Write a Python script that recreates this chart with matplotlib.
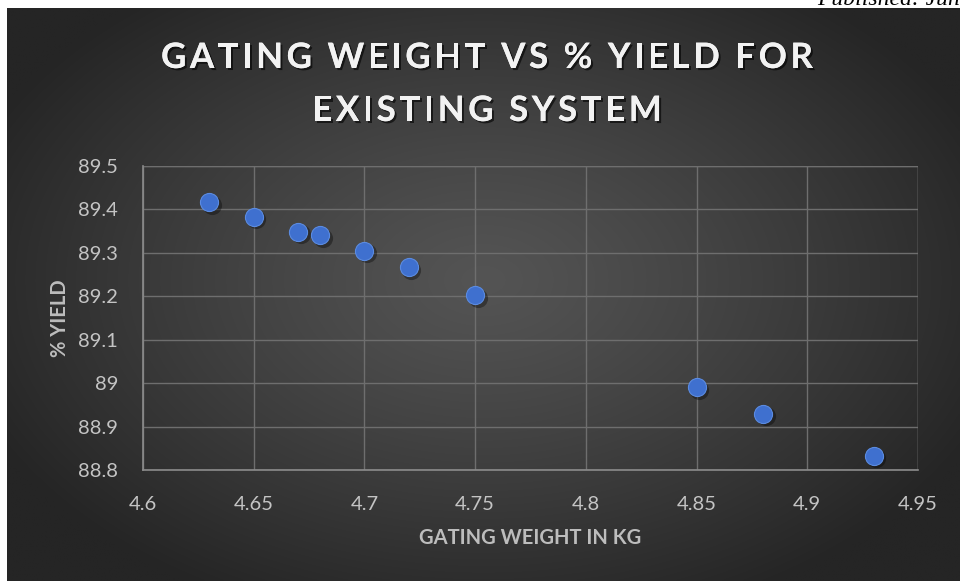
import numpy as np
import matplotlib
matplotlib.use("Agg")
import matplotlib.pyplot as plt
import matplotlib.patheffects as pe
from matplotlib.textpath import TextPath
from matplotlib.patches import PathPatch
from matplotlib.transforms import Affine2D, IdentityTransform
from matplotlib.font_manager import FontProperties, findfont, get_font

# gating weight (kg) against % yield, existing system
weight = [4.63, 4.65, 4.67, 4.68, 4.70, 4.72, 4.75, 4.85, 4.88, 4.93]
yield_pct = [89.416, 89.383, 89.349, 89.340, 89.305, 89.267, 89.203, 88.990, 88.930, 88.833]

x_ticks = [4.6, 4.65, 4.7, 4.75, 4.8, 4.85, 4.9, 4.95]
y_ticks = [88.8, 88.9, 89.0, 89.1, 89.2, 89.3, 89.4, 89.5]

title_lines = ["GATING WEIGHT VS % YIELD FOR", "EXISTING SYSTEM"]
x_label = "GATING WEIGHT IN KG"
y_label = "% YIELD"

W, H = 960, 581
fig = plt.figure(figsize=(W / 100, H / 100), dpi=100)
fig.patch.set_facecolor("white")

# dark radial background of the chart area
bg = fig.add_axes([7 / W, 0, (W - 7) / W, (H - 8) / H])
bg.set_axis_off()
gx, gy = np.meshgrid(np.linspace(-1, 1, 480), np.linspace(-1, 1, 290))
r = np.sqrt(((gx - 0.0) / 1.15) ** 2 + ((gy + 0.05) / 1.25) ** 2)
r = np.clip(r, 0, 1)
shade = (0x54 - (0x54 - 0x25) * r ** 1.2) / 255.0
img = np.dstack([shade, shade, shade])
bg.imshow(img, aspect="auto", extent=[0, 1, 0, 1], interpolation="bilinear")
bg.set_xlim(0, 1)
bg.set_ylim(0, 1)

ax = fig.add_axes([143 / W, (H - 470) / H, (918 - 143) / W, (470 - 166) / H])
ax.patch.set_alpha(0)

ax.scatter(np.array(weight) + 0.0012, np.array(yield_pct) - 0.006, s=190,
           color="black", alpha=0.35, linewidths=0, zorder=3)
ax.scatter(weight, yield_pct, s=170, color="#3f70cf", edgecolors="#5b8be0",
           linewidths=0.8, zorder=4)

ax.set_xlim(4.6, 4.95)
ax.set_ylim(88.8, 89.5)
ax.set_xticks(x_ticks)
ax.set_yticks(y_ticks)
ax.set_xticklabels([f"{v:g}" for v in x_ticks])
ax.set_yticklabels([f"{v:g}" for v in y_ticks])
ax.tick_params(length=0, labelsize=14.5, colors="#c4c4c4")
ax.tick_params(axis="y", pad=18)
ax.tick_params(axis="x", pad=19)
for lab in ax.get_xticklabels() + ax.get_yticklabels():
    lab.set_fontfamily("Lato")
ax.grid(True, color="#6e6e6e", linewidth=1.0)
ax.set_axisbelow(True)
for side in ["top", "right"]:
    ax.spines[side].set_visible(False)
for side in ["left", "bottom"]:
    ax.spines[side].set_color("#8c8c8c")
    ax.spines[side].set_linewidth(1.2)
# outer grid lines at the top and right edges
ax.axhline(89.5, color="#6e6e6e", linewidth=1.0, zorder=1)
ax.axvline(4.95, color="#6e6e6e", linewidth=1.0, zorder=1)

fig.text(530 / W, 1 - 538 / H, x_label, ha="center", va="center",
         fontsize=14.5, fontweight="bold", color="#bdbdbd", family="Lato")
fig.text(60 / W, 1 - 318 / H, y_label, ha="center", va="center", rotation=90,
         fontsize=14.5, fontweight="bold", color="#bdbdbd", family="Lato")


# letter-spaced title, drawn glyph by glyph in pixel coordinates
def spaced_line(text, cx, baseline, size, spacing, prop):
    font = get_font(findfont(prop))
    font.set_size(size, 72)
    adv = [font.load_char(ord(c)).linearHoriAdvance / 65536 for c in text]
    total = sum(adv) + spacing * (len(text) - 1)
    x = cx - total / 2
    shadow = [pe.withSimplePatchShadow(offset=(1.5, -1.5), shadow_rgbFace="black",
                                       alpha=0.6), pe.Normal()]
    for c, a in zip(text, adv):
        if c != " ":
            tp = TextPath((0, 0), c, size=size, prop=prop)
            patch = PathPatch(tp, facecolor="#f2f2f2", edgecolor="none",
                              transform=Affine2D().translate(x, H - baseline) + IdentityTransform())
            patch.set_path_effects(shadow)
            fig.add_artist(patch)
        x += a + spacing


title_prop = FontProperties(family="Lato", weight="bold")
spaced_line(title_lines[0], 487, 68, 35, 3.5, title_prop)
spaced_line(title_lines[1], 487, 121, 35, 3.5, title_prop)

# caption clipped at the top edge of the page
fig.text(817 / W, 1 - 5 / H, "Published: June", ha="left", va="baseline",
         fontsize=17, style="italic", color="black", family="Liberation Serif")

fig.savefig("out.png", dpi=100, facecolor=fig.get_facecolor())
